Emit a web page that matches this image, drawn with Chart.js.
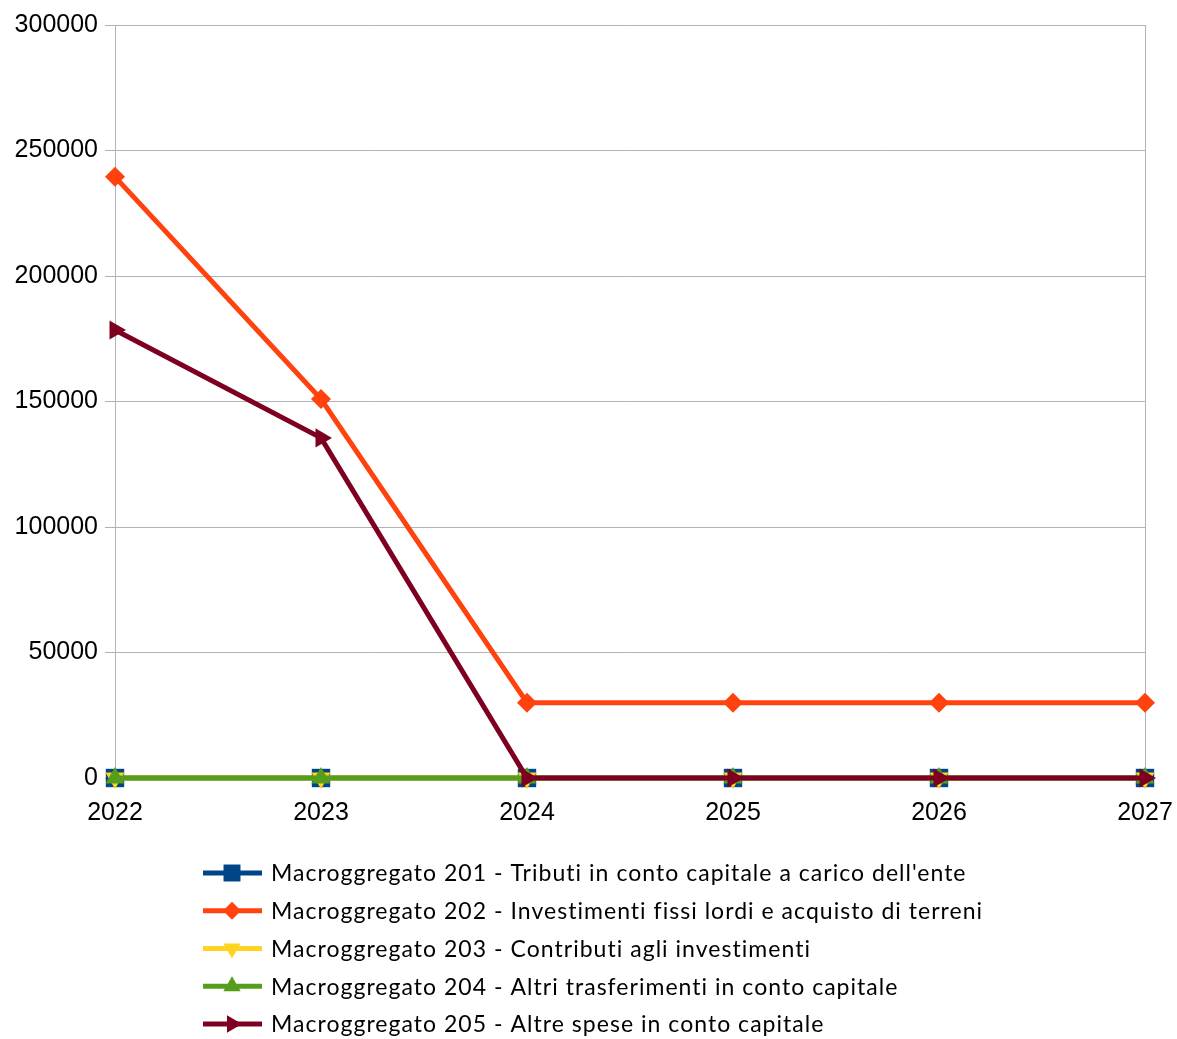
<!DOCTYPE html>
<html>
<head>
<meta charset="utf-8">
<script src="https://cdn.jsdelivr.net/npm/chart.js@4/dist/chart.umd.min.js"></script>
<style>
  html, body { margin: 0; padding: 0; background: #ffffff; }
  #c { display: block; }
</style>
</head>
<body>
<canvas id="c" width="1177" height="1039"></canvas>
<script>
const years = ['2022', '2023', '2024', '2025', '2026', '2027'];
const seriesNames = [
  "Macroggregato 201 - Tributi in conto capitale a carico dell'ente",
  "Macroggregato 202 - Investimenti fissi lordi e acquisto di terreni",
  "Macroggregato 203 - Contributi agli investimenti",
  "Macroggregato 204 - Altri trasferimenti in conto capitale",
  "Macroggregato 205 - Altre spese in conto capitale"
];
const m201 = [0, 0, 0, 0, 0, 0];
const m202 = [239500, 151000, 30000, 30000, 30000, 30000];
const m203 = [0, 0, 0, 0, 0, 0];
const m204 = [0, 0, 0, 0, 0, 0];
const m205 = [178500, 135500, 0, 0, 0, 0];
const yTicks = [0, 50000, 100000, 150000, 200000, 250000, 300000];

const colors = ['#004586', '#ff420e', '#ffd320', '#579d1c', '#7e0021'];
const pointStyles = ['rect', 'rectRot', 'triangle', 'triangle', 'triangle'];
const pointRotations = [0, 0, 180, 0, 90];
const pointRadii = [13, 10, 11, 11, 11];
const values = [m201, m202, m203, m204, m205];

const datasets = values.map((v, i) => ({
  label: seriesNames[i],
  data: v,
  borderColor: colors[i],
  backgroundColor: colors[i],
  borderWidth: 5,
  pointStyle: pointStyles[i],
  pointRotation: pointRotations[i],
  pointRadius: pointRadii[i],
  pointHoverRadius: pointRadii[i],
  pointBorderWidth: 0,
  pointBackgroundColor: colors[i],
  tension: 0,
  clip: false,
  order: 4 - i
}));

const legendPlugin = {
  id: 'customLegend',
  afterDraw(chart) {
    const ctx = chart.ctx;
    ctx.save();
    const font = '23px Lato, "Open Sans", sans-serif';
    ctx.font = font;
    const targetW = 695;
    const w0 = ctx.measureText(seriesNames[0]).width;
    const ls = (targetW - w0) / (seriesNames[0].length - 1);
    try { ctx.letterSpacing = ls.toFixed(2) + 'px'; } catch (e) {}
    ctx.textBaseline = 'middle';
    ctx.fillStyle = '#000000';
    const y0 = 873, step = 37.75;
    seriesNames.forEach((name, i) => {
      const y = y0 + i * step;
      ctx.strokeStyle = colors[i];
      ctx.lineWidth = 5;
      ctx.beginPath();
      ctx.moveTo(203, y);
      ctx.lineTo(262, y);
      ctx.stroke();
      ctx.fillStyle = colors[i];
      Chart.helpers.drawPoint(ctx, {
        pointStyle: pointStyles[i],
        rotation: pointRotations[i],
        radius: pointRadii[i] - 1,
        borderWidth: 0
      }, 232, y);
      ctx.fillStyle = '#000000';
      ctx.fillText(name, 271, y + 1);
    });
    ctx.restore();
  }
};

new Chart(document.getElementById('c'), {
  type: 'line',
  data: { labels: years, datasets: datasets },
  options: {
    responsive: false,
    animation: false,
    layout: { padding: { top: 25, right: 32, bottom: 216, left: 0 } },
    plugins: {
      legend: { display: false },
      tooltip: { enabled: false }
    },
    scales: {
      x: {
        type: 'category',
        offset: false,
        grid: {
          display: true,
          drawOnChartArea: true,
          color: (c) => (c.index === years.length - 1 ? '#b3b3b3' : 'rgba(0,0,0,0)'),
          tickColor: '#b3b3b3',
          tickLength: 10,
          lineWidth: 1
        },
        border: { display: true, color: '#b3b3b3', width: 1 },
        ticks: {
          color: '#000000',
          font: { family: '"Liberation Sans", Arial, sans-serif', size: 25 },
          padding: 10,
          maxRotation: 0,
          autoSkip: false
        },
        afterFit(scale) { scale.height = 45; scale.paddingLeft = 0; scale.paddingRight = 0; }
      },
      y: {
        min: 0,
        max: 300000,
        afterBuildTicks(scale) { scale.ticks = yTicks.map(v => ({ value: v })); },
        grid: {
          color: '#b3b3b3',
          tickColor: '#b3b3b3',
          tickLength: 10,
          lineWidth: 1
        },
        border: { display: true, color: '#b3b3b3', width: 1 },
        ticks: {
          color: '#000000',
          font: { family: '"Liberation Sans", Arial, sans-serif', size: 25 },
          padding: 7,
          callback: (v) => String(v)
        },
        afterFit(scale) { scale.width = 115; scale.paddingTop = 0; scale.paddingBottom = 0; }
      }
    }
  },
  plugins: [legendPlugin]
});
</script>
</body>
</html>
